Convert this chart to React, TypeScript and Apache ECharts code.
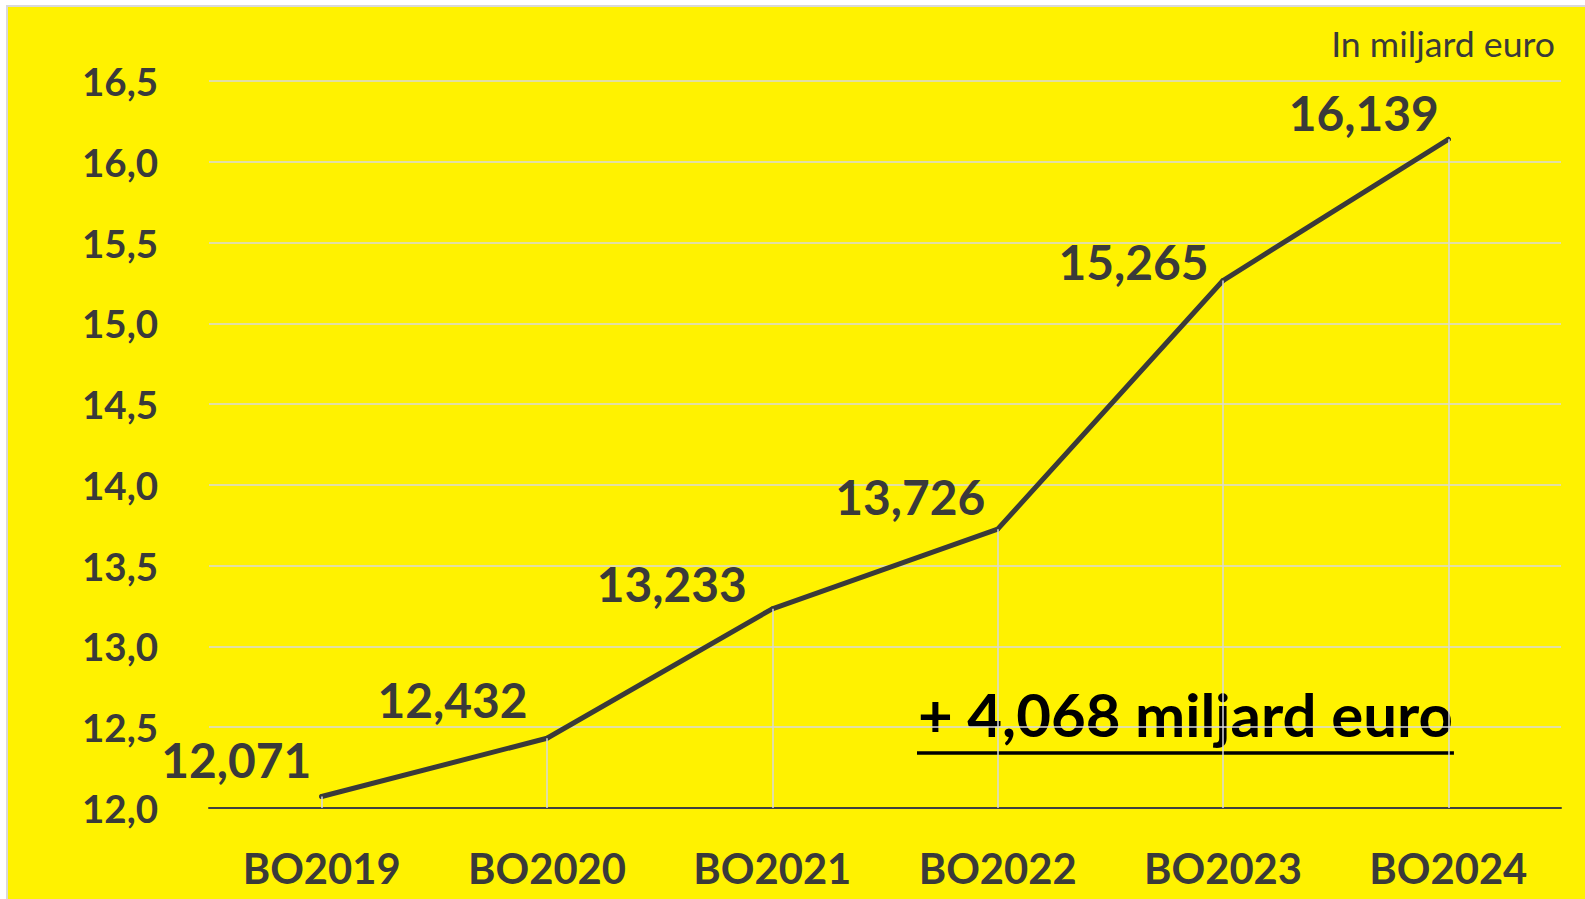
import React, { useEffect, useRef } from 'react';
import * as echarts from 'echarts';

// ---- data ----
const categories = ['BO2019', 'BO2020', 'BO2021', 'BO2022', 'BO2023', 'BO2024'];
const values = [12.071, 12.432, 13.233, 13.726, 15.265, 16.139];
const yMin = 12.0;
const yMax = 16.5;
const yStep = 0.5;
const unitLabel = 'In miljard euro';
const growthLabel = '+ 4,068 miljard euro';

// ---- label placement (style) ----
const labelGap = [8, 17, 23, 10, 12, 7];
const labelLift = [-37, -39, -25, -33, -19, -27];

const FONT = 'Lato';
const TEXT = '#3a3a3a';

function fitFont(text: string, weight: string, targetWidth: number): number {
  const ctx = document.createElement('canvas').getContext('2d');
  if (!ctx) return 40;
  ctx.font = `${weight} 100px ${FONT}`;
  const w = ctx.measureText(text).width;
  return (100 * targetWidth) / w;
}

function measure(text: string, weight: string, size: number): number {
  const ctx = document.createElement('canvas').getContext('2d');
  if (!ctx) return 0;
  ctx.font = `${weight} ${size}px ${FONT}`;
  return ctx.measureText(text).width;
}

export default function App() {
  const ref = useRef<HTMLDivElement>(null);

  useEffect(() => {
    if (!ref.current) return;
    const chart = echarts.init(ref.current, undefined, { renderer: 'svg' });

    const yFont = fitFont('16,5', 'bold', 76);
    const xFont = fitFont('BO2019', 'bold', 158);
    const dFont = fitFont('16,139', 'bold', 150);
    const uFont = fitFont(unitLabel, 'normal', 224);
    const gFont = fitFont(growthLabel, 'bold', 535);
    const gWidth = measure(growthLabel, 'bold', gFont);

    const option: any = {
      animation: false,
      backgroundColor: '#FFF200',
      grid: { left: 201, right: 24, top: 74, bottom: 91, containLabel: false },
      xAxis: {
        type: 'category',
        data: categories,
        boundaryGap: true,
        axisLine: { lineStyle: { color: '#404040', width: 2 } },
        axisTick: { show: false },
        splitLine: { show: false },
        axisLabel: {
          color: TEXT,
          fontFamily: FONT,
          fontWeight: 'bold',
          fontSize: xFont,
          lineHeight: xFont,
          margin: 39,
        },
      },
      yAxis: {
        type: 'value',
        min: yMin,
        max: yMax,
        interval: yStep,
        axisLine: { show: false },
        axisTick: { show: false },
        splitLine: { lineStyle: { color: '#d9d9d9', width: 1.5 } },
        axisLabel: {
          color: TEXT,
          fontFamily: FONT,
          fontWeight: 'bold',
          fontSize: yFont,
          margin: 51,
          formatter: (v: number) => v.toFixed(1).replace('.', ','),
        },
      },
      series: [
        {
          type: 'line',
          data: values.map((v, i) => ({
            value: v,
            label: { offset: [-labelGap[i], labelLift[i]] },
          })),
          symbol: 'circle',
          symbolSize: 5,
          showSymbol: true,
          itemStyle: { color: TEXT },
          lineStyle: { color: TEXT, width: 5, cap: 'round', join: 'round' },
          label: {
            show: true,
            position: 'left',
            distance: 0,
            color: TEXT,
            fontFamily: FONT,
            fontWeight: 'bold',
            fontSize: dFont,
            formatter: (p: any) => Number(p.value).toFixed(3).replace('.', ','),
          },
          markLine: {
            silent: true,
            symbol: 'none',
            label: { show: false },
            lineStyle: { color: '#d9d9d9', width: 1.5, type: 'solid' },
            data: values.map((v, i) => [
              { coord: [i, yMin] },
              { coord: [i, v] },
            ]),
          },
          z: 3,
        },
      ],
      graphic: [
        {
          type: 'text',
          x: 1547,
          y: 36,
          style: {
            text: unitLabel,
            fill: TEXT,
            font: `normal ${uFont}px ${FONT}`,
            textAlign: 'right',
            textVerticalAlign: 'middle',
          },
        },
        {
          type: 'text',
          x: 910,
          y: 707,
          style: {
            text: growthLabel,
            fill: '#000000',
            font: `bold ${gFont}px ${FONT}`,
            textAlign: 'left',
            textVerticalAlign: 'middle',
          },
        },
        {
          type: 'line',
          shape: { x1: 909, y1: 746, x2: 911 + gWidth, y2: 746 },
          style: { stroke: '#000000', lineWidth: 3.5 },
        },
      ],
    };

    chart.setOption(option);
    return () => chart.dispose();
  }, []);

  return (
    <div
      style={{
        position: 'absolute',
        left: 6,
        top: 5,
        width: 1579,
        height: 894,
        boxSizing: 'border-box',
        borderLeft: '2px solid #d9d9d9',
        borderTop: '2px solid #d9d9d9',
        background: '#FFF200',
        overflow: 'hidden',
      }}
    >
      <div ref={ref} style={{ width: 1577, height: 892 }} />
    </div>
  );
}
